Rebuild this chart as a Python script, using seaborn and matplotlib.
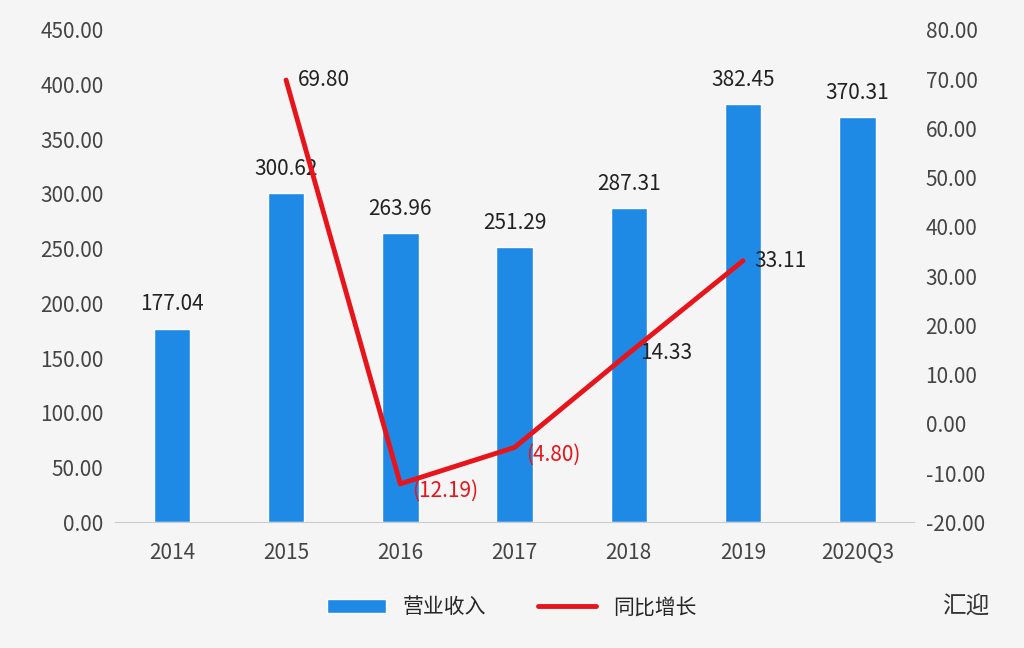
import numpy as np
import pandas as pd
import matplotlib
matplotlib.use('Agg')
import matplotlib.pyplot as plt
import seaborn as sns
from matplotlib.lines import Line2D
from matplotlib.patches import Patch

years = ['2014', '2015', '2016', '2017', '2018', '2019', '2020Q3']
revenue = [177.04, 300.62, 263.96, 251.29, 287.31, 382.45, 370.31]
growth_years = ['2015', '2016', '2017', '2018', '2019']
growth = [69.80, -12.19, -4.80, 14.33, 33.11]
growth_labels = ['69.80', '(12.19)', '(4.80)', '14.33', '33.11']

sns.set_style('white')
plt.rcParams['font.family'] = ['Noto Sans CJK SC', 'DejaVu Sans']

bar_color = '#1e8ae6'
line_color = '#e8141b'
bg = '#f5f5f5'
fs = 15

fig = plt.figure(figsize=(10.24, 6.48), dpi=100, facecolor=bg)
ax = fig.add_axes([0.112, 0.194, 0.781, 0.76], facecolor=bg)

df = pd.DataFrame({'year': years, 'revenue': revenue})
sns.barplot(data=df, x='year', y='revenue', color=bar_color, width=0.32,
            saturation=1, ax=ax)
ax.set_ylim(0, 450)
ax.set_yticks(np.arange(0, 451, 50))
ax.set_yticklabels([f'{v:.2f}' for v in np.arange(0, 451, 50)])
ax.set_xlim(-0.5, len(years) - 0.5)
ax.set_xlabel('')
ax.set_ylabel('')
for i, v in enumerate(revenue):
    ax.text(i, v + 12, f'{v:.2f}', ha='center', va='bottom', fontsize=fs, color='#222222')

ax2 = ax.twinx()
gx = [years.index(y) for y in growth_years]
sns.lineplot(x=gx, y=growth, color=line_color, linewidth=3.5, ax=ax2)
ax2.set_ylim(-20, 80)
ax2.set_yticks(np.arange(-20, 81, 10))
ax2.set_yticklabels([f'{v:.2f}' for v in np.arange(-20, 81, 10)])
ax2.set_xlim(-0.5, len(years) - 0.5)
for x, v, lab in zip(gx, growth, growth_labels):
    c = line_color if v < 0 else '#222222'
    dy = -1.5 if v < 0 else 0
    ax2.text(x + 0.1, v + dy, lab, ha='left', va='center', fontsize=fs, color=c)

for a in (ax, ax2):
    for s in a.spines.values():
        s.set_visible(False)
    a.tick_params(axis='both', length=0, labelsize=fs, labelcolor='#444444', pad=8)
ax.spines['bottom'].set_visible(True)
ax.spines['bottom'].set_color('#cccccc')
ax.tick_params(axis='x', pad=14)

handles = [Patch(facecolor=bar_color, label='营业收入'),
           Line2D([0], [0], color=line_color, lw=3.5, label='同比增长')]
fig.legend(handles=handles, loc='center', bbox_to_anchor=(0.5, 0.063), ncol=2,
           frameon=False, fontsize=fs, handlelength=2.8, columnspacing=2.5)
fig.text(0.92, 0.063, '汇迎', fontsize=17, color='#333333', ha='left', va='center')

fig.savefig('out.png', dpi=100, facecolor=bg)
